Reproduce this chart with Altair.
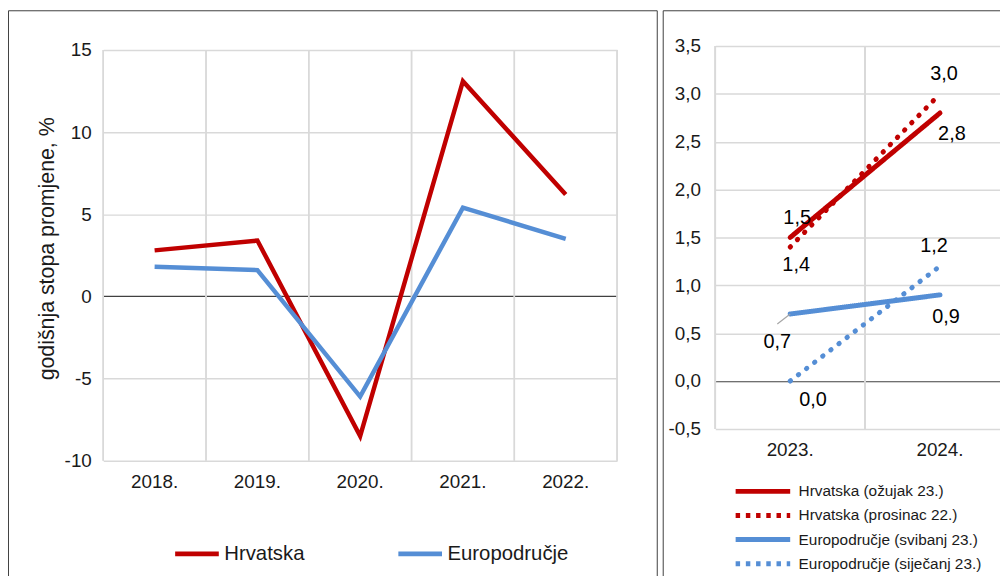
import altair as alt
import pandas as pd

# ---------------- data ----------------
# left panel: annual growth rates 2018-2022
YEARS_L = ["2018.", "2019.", "2020.", "2021.", "2022."]
SERIES_L = ["Hrvatska", "Europodručje"]
HRVATSKA = [2.8, 3.4, -8.5, 13.1, 6.2]
EUROPODRUCJE = [1.8, 1.6, -6.1, 5.4, 3.5]
LEFT_TICKS = [-10, -5, 0, 5, 10, 15]

# right panel: projections 2023-2024
YEARS_R = ["2023.", "2024."]
SERIES_R = [
    "Hrvatska (ožujak 23.)",
    "Hrvatska (prosinac 22.)",
    "Europodručje (svibanj 23.)",
    "Europodručje (siječanj 23.)",
]
HR_OZUJAK = [1.5, 2.8]
HR_PROSINAC = [1.4, 3.0]
EU_SVIBANJ = [0.7, 0.9]
EU_SIJECANJ = [0.0, 1.2]
RIGHT_TICKS = [-0.5, 0.0, 0.5, 1.0, 1.5, 2.0, 2.5, 3.0, 3.5]

# ---------------- styles ----------------
RED = "#C00000"
BLUE = "#558ED5"
GRID = "#d9d9d9"
ZERO = "#404040"
TXT = "#1a1a1a"
FONT = "Liberation Sans"
W, H = 1000, 568
SOLID = [1, 0]
DOTTED_PLOT = [0.5, 9.8]
DOTTED_LEGEND = [4.5, 5.8]
RIGHT_COLORS = [RED, RED, BLUE, BLUE]
RIGHT_DASH_PLOT = [SOLID, DOTTED_PLOT, SOLID, DOTTED_PLOT]
RIGHT_DASH_LEGEND = [SOLID, DOTTED_LEGEND, SOLID, DOTTED_LEGEND]

# label offsets (dx, dy) for the right panel data labels
LABEL_OFFSETS = {
    (SERIES_R[0], "2023."): (7, -20),
    (SERIES_R[0], "2024."): (12, 21),
    (SERIES_R[1], "2023."): (6, 18),
    (SERIES_R[1], "2024."): (4, -20),
    (SERIES_R[2], "2023."): (-13, 28),
    (SERIES_R[2], "2024."): (6, 22),
    (SERIES_R[3], "2023."): (23, 19),
    (SERIES_R[3], "2024."): (-6, -20),
}

left_rows = []
for s, vals in zip(SERIES_L, [HRVATSKA, EUROPODRUCJE]):
    for y, v in zip(YEARS_L, vals):
        left_rows.append({"serija": s, "godina": y, "vrijednost": v})
left_df = pd.DataFrame(left_rows)

right_rows = []
for s, vals in zip(SERIES_R, [HR_OZUJAK, HR_PROSINAC, EU_SVIBANJ, EU_SIJECANJ]):
    for y, v in zip(YEARS_R, vals):
        right_rows.append({"prognoza": s, "godina": y, "vrijednost": v,
                           "oznaka": f"{v:.1f}".replace(".", ",")})
right_df = pd.DataFrame(right_rows)

zero_cond_color = alt.condition("datum.value == 0", alt.value(ZERO), alt.value(GRID))
zero_cond_width = alt.condition("datum.value == 0", alt.value(1.2), alt.value(1.5))


def band_grid(df, x_scale, x_axis, y_scale, y_axis, y_lo, y_hi, last_year):
    """Vertical grid lines at the band boundaries (start of every band + end of the last)."""
    starts = alt.Chart(df).mark_rule(color=GRID, strokeWidth=1.5).encode(
        x=alt.X("godina:N", bandPosition=0, scale=x_scale, axis=x_axis, title=None),
        y=alt.YDatum(y_lo, scale=y_scale, axis=y_axis),
        y2=alt.Y2Datum(y_hi),
    )
    end = (
        alt.Chart(df)
        .transform_filter(f"datum.godina == '{last_year}'")
        .mark_rule(color=GRID, strokeWidth=1.5)
        .encode(x=alt.X("godina:N", bandPosition=1, scale=x_scale, axis=x_axis, title=None),
                y=alt.YDatum(y_lo, scale=y_scale, axis=y_axis),
                y2=alt.Y2Datum(y_hi))
    )
    return [starts, end]


# ---------------- left panel ----------------
left_x_scale = alt.Scale(type="band", domain=YEARS_L, range=[96, 614], paddingInner=0, paddingOuter=0)
left_x_axis = alt.Axis(orient="bottom", offset=454 - H, grid=False, ticks=False, tickSize=0, domain=False,
                       labelFontSize=19, labelPadding=12, labelColor=TXT, labelAngle=0, labelFont=FONT)
left_x = alt.X("godina:N", scale=left_x_scale, axis=left_x_axis, title=None)
left_y_scale = alt.Scale(domain=[-10, 15], range=[454, 40], nice=False, zero=False)
left_y_axis = alt.Axis(orient="left", offset=-96, values=LEFT_TICKS, labelExpr="'' + datum.value",
                       grid=True, gridColor=zero_cond_color, gridWidth=zero_cond_width,
                       ticks=False, tickSize=0, domain=False, labelFontSize=19, labelPadding=12,
                       labelColor=TXT, labelFont=FONT,
                       title="godišnja stopa promjene, %", titleFontSize=21.5, titleFontWeight="normal",
                       titleColor=TXT, titleFont=FONT, titleAngle=270, titleX=-56, titleY=240,
                       titleAlign="center", titleBaseline="middle")
left_y = alt.Y("vrijednost:Q", scale=left_y_scale, axis=left_y_axis)
left_grid = band_grid(left_df, left_x_scale, left_x_axis, left_y_scale, left_y_axis, -10, 15, YEARS_L[-1])

left_lines = alt.Chart(left_df).mark_line(strokeWidth=4.5).encode(
    x=left_x, y=left_y,
    color=alt.Color("serija:N", sort=SERIES_L,
                    scale=alt.Scale(domain=SERIES_L, range=[RED, BLUE]),
                    legend=alt.Legend(orient="none", legendX=166, legendY=537, direction="horizontal",
                                      title=None, symbolType="stroke", symbolSize=1936,
                                      symbolStrokeWidth=5, labelFontSize=20.5, labelOffset=3,
                                      columnPadding=92, clipHeight=22, labelLimit=300,
                                      labelColor=TXT, labelFont=FONT)),
)
left_layer = alt.layer(*left_grid, left_lines)

# ---------------- right panel ----------------
right_x_scale = alt.Scale(type="band", domain=YEARS_R, range=[713, 1015], paddingInner=0, paddingOuter=0)
right_x_axis = alt.Axis(orient="bottom", offset=422 - H, grid=False, ticks=False, tickSize=0, domain=False,
                        labelFontSize=19, labelPadding=12, labelColor=TXT, labelAngle=0, labelFont=FONT)
right_x = alt.X("godina:N", scale=right_x_scale, axis=right_x_axis, title=None)
right_y_scale = alt.Scale(domain=[-0.5, 3.5], range=[422, 36], nice=False, zero=False)
right_y_axis = alt.Axis(orient="left", offset=-713, values=RIGHT_TICKS, title=None,
                        labelExpr="datum.value % 1 == 0 ? datum.value + ',0' : replace('' + datum.value, '.', ',')",
                        grid=True, gridColor=zero_cond_color, gridWidth=zero_cond_width,
                        ticks=False, tickSize=0, domain=False, labelFontSize=19, labelPadding=15,
                        labelColor=TXT, labelFont=FONT)
right_y = alt.Y("vrijednost:Q", scale=right_y_scale, axis=right_y_axis)
right_grid = band_grid(right_df, right_x_scale, right_x_axis, right_y_scale, right_y_axis,
                       -0.5, 3.5, YEARS_R[-1])

right_legend = alt.Legend(orient="none", legendX=731, legendY=476, direction="vertical",
                          title=None, symbolType="stroke", symbolSize=3025, symbolStrokeWidth=5,
                          labelFontSize=15.5, labelOffset=6, rowPadding=6.3, clipHeight=18,
                          labelLimit=300, labelColor=TXT, labelFont=FONT)
# legend carrier: same encodings, no drawn data
legend_layer = (
    alt.Chart(right_df)
    .transform_filter("false")
    .mark_line(strokeWidth=5)
    .encode(
        x=right_x, y=right_y,
        color=alt.Color("prognoza:N", sort=SERIES_R,
                        scale=alt.Scale(domain=SERIES_R, range=RIGHT_COLORS), legend=right_legend),
        strokeDash=alt.StrokeDash("prognoza:N", sort=SERIES_R,
                                  scale=alt.Scale(domain=SERIES_R, range=RIGHT_DASH_LEGEND),
                                  legend=right_legend),
    )
)

series_layers = []
for s, col, dash in zip(SERIES_R, RIGHT_COLORS, RIGHT_DASH_PLOT):
    series_layers.append(
        alt.Chart(right_df)
        .transform_filter(f"datum.prognoza == '{s}'")
        .mark_line(strokeWidth=5, strokeCap="round", color=col, strokeDash=dash)
        .encode(x=right_x, y=right_y)
    )

text_layers = []
for (s, y), (dx, dy) in LABEL_OFFSETS.items():
    text_layers.append(
        alt.Chart(right_df)
        .transform_filter(f"datum.prognoza == '{s}' && datum.godina == '{y}'")
        .mark_text(dx=dx, dy=dy, fontSize=20, font=FONT, color="#000000",
                   align="center", baseline="middle")
        .encode(x=right_x, y=right_y, text="oznaka:N")
    )

leader = (
    alt.Chart(right_df)
    .transform_filter(f"datum.prognoza == '{SERIES_R[2]}' && datum.godina == '2023.'")
    .mark_rule(color="#a6a6a6", strokeWidth=1.2, x2Offset=-13, y2Offset=10)
    .encode(x=right_x, y=right_y, x2="godina:N", y2="vrijednost:Q")
)

right_layer = alt.layer(*right_grid, legend_layer, *series_layers, leader, *text_layers)

# ---------------- panel frames ----------------
frame_data = alt.InlineData(values=[{"okvir": 1}])
frame_left = alt.Chart(frame_data).mark_rect(fillOpacity=0, stroke="#3f3f3f", strokeWidth=1).encode(
    x=alt.value(0.5), x2=alt.value(654.5), y=alt.value(0.5), y2=alt.value(700))
frame_right = alt.Chart(frame_data).mark_rect(fillOpacity=0, stroke="#3f3f3f", strokeWidth=1).encode(
    x=alt.value(660.5), x2=alt.value(1020), y=alt.value(0.5), y2=alt.value(700))

chart = (
    alt.layer(frame_left, frame_right, left_layer, right_layer)
    .resolve_scale(x="independent", y="independent", color="independent", strokeDash="independent")
    .resolve_legend(color="independent", strokeDash="independent")
    .properties(width=W, height=H, padding=0, autosize=alt.AutoSizeParams(type="none"))
    .configure(font=FONT)
    .configure_view(strokeWidth=0)
)

chart.save("out.html", embed_options={"renderer": "svg", "actions": False})
